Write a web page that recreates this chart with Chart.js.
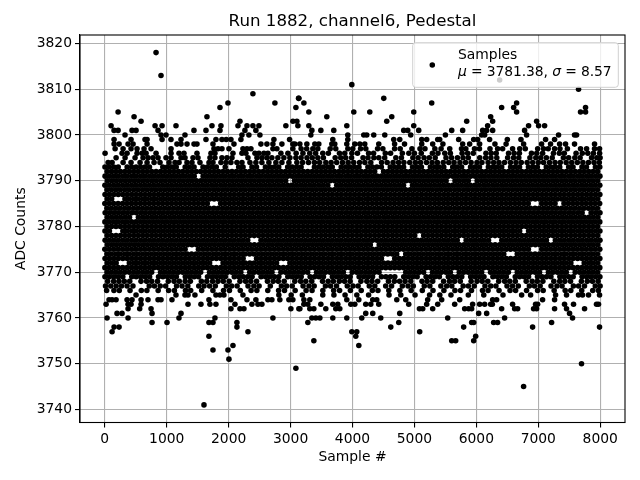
<!DOCTYPE html>
<html><head><meta charset="utf-8">
<style>html,body{margin:0;padding:0;background:#fff}canvas{display:block}</style>
<script src="https://cdn.jsdelivr.net/npm/chart.js@4"></script>
</head><body><canvas id="c" width="640" height="480"></canvas>
<script>
const chartTitle="Run 1882, channel6, Pedestal";
const xTitle="Sample #";
const yTitle="ADC Counts";
const seriesName="Samples";
const meanValue="3781.38";
const sigmaValue="8.57";
const xTicks=[0,1000,2000,3000,4000,5000,6000,7000,8000];
const yTicks=[3740,3750,3760,3770,3780,3790,3800,3810,3820];
// Outliers and sparse rows; dense core rows are estimates.
const L3818=[828];const L3813=[908];const L3812=[6376];const L3811=[3989];const L3810=[7650];
const L3809=[2392];const L3808=[3129,4505,3134];const L3807=[1989,2747,3215,5279,6650];
const L3806=[1860,3086,6408,6602,7763];const L3805=[215,3295,4021,4279,4989,6650,7682,7763];
const L3804=[473,1650,3585,4634,6231];const L3803=[586,2183,3038,3102,4553,5844,6263,6973];
const L3802=[102,812,925,1150,1731,1876,2151,2296,2392,2489,2924,3118,3295,3908,4989,6182,6843,7005,7102];
const L3801=[150,215,440,505,860,1440,1634,1860,2263,2440,3344,3489,3698,4827,4892,5069,5602,5779,6102,6166,6263,6779];
const L3800=[327,908,989,1295,2215,2327,2505,3327,3924,4182,4230,4343,4521,4940,5500,6085,6134,6811,7327,7585,7618];
const L3799=[150,424,650,683,925,1069,1231,1634,1795,1892,1961,2037,2198,2731,2984,3682,3924,4666,4763,5118,5198,5376,5408,5714,5957,6021,6214,6500,6720,7118,7263];
const L3798=[150,231,376,457,683,1166,1231,1328,1441,1489,1747,2086,2521,2618,2715,2860,3037,3069,3150,3263,3392,3456,3666,3714,3908,4037,4118,4198,4424,4680,4840,5118,5295,5460,5779,5892,6053,6300,6480,6763,7053,7198,7344,7440,7585,7908];
const L3797=[167,296,424,521,634,747,1070,1763,1828,1892,2005,2231,2296,2360,2715,2779,3037,3170,3260,3360,3440,3640,3730,3925,4005,4130,4215,4405,4490,4680,4770,4960,5090,5170,5330,5430,5570,5760,5830,5970,6050,6220,6343,6424,6585,6700,6790,6990,7085,7160,7263,7350,7470,7682,7780,7908,7989];
const L3796=[5,279,360,521,602,667,828,1070,1199,1279,1489,1715,1779,2070,2215,2279,2425,2489,2570,2634,2844,2957,3090,3200,3310,3405,3520,3610,3790,3875,3990,4080,4260,4340,4530,4615,4805,4910,5000,5110,5290,5380,5490,5580,5770,5860,5950,6155,6240,6320,6520,6610,6695,6890,6975,7070,7245,7340,7420,7610,7710,7800,7890,7990];
const L3795=[183,328,489,618,699,779,860,989,1070,1231,1296,1425,1505,1699,1779,1892,1973,2054,2312,2457,2537,2618,2698,2795,2892,2989,3086,3170,3265,3350,3440,3530,3720,3810,3890,3985,4170,4250,4345,4425,4520,4700,4790,4975,5060,5155,5240,5335,5510,5600,5695,5785,5870,6055,6150,6235,6330,6505,6600,6685,6865,6960,7040,7130,7225,7405,7490,7590,7675,7860,7945,7998];
const L3794=[54,118,296,424,570,683,796,892,1038,1134,1199,1328,1408,1537,1683,1747,1876,1957,2037,2134,2215,2344,2440,2537,2650,2763,2860,2973,3102,3195,3290,3385,3470,3570,3655,3745,3840,3930,4020,4115,4200,4295,4470,4560,4655,4745,4830,4925,5015,5100,5195,5285,5370,5465,5555,5640,5735,5825,5915,6010,6090,6190,6280,6365,6455,6550,6640,6725,6820,6910,7000,7085,7180,7270,7355,7450,7540,7630,7720,7810,7900,7985];
const L3793=[3,74,146,217,361,434,505,578,649,722,937,1010,1081,1154,1298,1369,1442,1586,1657,1730,1801,1945,2162,2233,2377,2450,2594,2665,2738,2809,2953,3026,3097,3170,3385,3458,3529,3602,3673,3817,3890,3961,4034,4105,4249,4322,4393,4466,4610,4681,4754,4825,4969,5042,5113,5257,5330,5401,5474,5618,5689,5762,5906,5977,6050,6194,6265,6338,6409,6553,6626,6697,6841,6914,6985,7129,7202,7273,7346,7490,7561,7705,7778,7922,7993];
const L3792=[38,110,182,253,326,397,470,541,614,685,758,829,902,973,1046,1117,1190,1261,1334,1405,1478,1549,1622,1693,1766,1837,1910,1981,2054,2125,2198,2269,2342,2413,2486,2557,2630,2701,2774,2845,2918,2989,3062,3133,3206,3277,3350,3421,3494,3565,3638,3709,3782,3853,3926,3997,4070,4141,4214,4285,4358,4502,4573,4646,4717,4790,4861,4934,5005,5078,5149,5222,5293,5366,5437,5510,5581,5654,5725,5798,5869,5942,6013,6086,6157,6230,6301,6374,6445,6518,6589,6662,6733,6806,6877,6950,7021,7094,7165,7238,7309,7382,7453,7526,7597,7670,7741,7814,7885,7958];
const L3791=[5,76,148,219,292,363,436,507,580,651,724,795,868,939,1012,1083,1156,1227,1300,1371,1444,1588,1659,1732,1803,1876,1947,2020,2091,2164,2235,2308,2379,2452,2523,2596,2667,2740,2811,2884,2955,3028,3099,3172,3243,3316,3387,3460,3531,3604,3675,3748,3819,3892,3963,4036,4107,4180,4251,4324,4395,4468,4539,4612,4683,4756,4827,4900,4971,5044,5115,5188,5259,5332,5403,5476,5547,5620,5691,5764,5835,5908,5979,6052,6123,6196,6267,6340,6411,6484,6555,6628,6699,6772,6843,6916,6987,7060,7131,7204,7275,7348,7419,7492,7563,7636,7707,7780,7851,7924,7995];
const L3790=[41,113,185,256,329,400,473,544,617,688,761,832,905,976,1049,1120,1193,1264,1337,1408,1481,1552,1625,1696,1769,1840,1913,1984,2057,2128,2201,2272,2345,2416,2489,2560,2633,2704,2777,2848,2921,3064,3135,3208,3279,3352,3423,3496,3567,3640,3711,3784,3855,3928,3999,4072,4143,4216,4287,4360,4431,4504,4575,4648,4719,4792,4863,4936,5007,5080,5151,5224,5295,5368,5439,5512,5655,5726,5799,5870,6013,6086,6157,6230,6301,6374,6445,6518,6589,6662,6733,6806,6877,6950,7021,7094,7165,7238,7309,7382,7453,7526,7597,7670,7741,7814,7885,7958];
const L3789=[2,73,145,216,289,360,433,504,577,648,721,792,865,936,1009,1080,1153,1224,1297,1368,1441,1512,1585,1656,1729,1800,1873,1944,2017,2088,2161,2232,2305,2376,2449,2520,2593,2664,2737,2808,2881,2952,3025,3096,3169,3240,3313,3384,3457,3528,3601,3745,3816,3889,3960,4033,4104,4177,4248,4321,4392,4465,4536,4609,4680,4753,4824,4969,5040,5113,5184,5257,5328,5401,5472,5545,5616,5689,5760,5833,5904,5977,6048,6121,6192,6265,6336,6409,6480,6553,6624,6697,6768,6841,6912,6985,7056,7129,7200,7273,7344,7417,7488,7561,7632,7705,7776,7849,7920,7993];
const L3788=[36,108,180,251,324,395,468,539,612,683,756,827,900,971,1044,1115,1188,1259,1332,1403,1476,1547,1620,1691,1764,1835,1908,1979,2052,2123,2196,2267,2340,2411,2484,2555,2628,2699,2772,2843,2916,2987,3060,3131,3204,3275,3348,3419,3492,3563,3636,3707,3780,3851,3924,3995,4068,4139,4212,4283,4356,4427,4500,4571,4644,4715,4788,4859,4932,5003,5076,5147,5220,5291,5364,5435,5508,5579,5652,5723,5796,5867,5940,6011,6084,6155,6228,6299,6372,6443,6516,6587,6660,6731,6804,6875,6948,7019,7092,7163,7236,7307,7380,7451,7524,7595,7668,7739,7812,7883,7956];
const L3787=[4,75,147,218,291,362,435,506,579,650,723,794,867,938,1011,1082,1155,1226,1299,1370,1443,1514,1587,1658,1731,1802,1875,1946,2019,2090,2163,2234,2307,2378,2451,2522,2595,2666,2739,2810,2883,2954,3027,3098,3171,3242,3315,3386,3459,3530,3603,3674,3747,3818,3891,3962,4035,4106,4179,4250,4323,4394,4467,4538,4611,4682,4755,4826,4899,4970,5043,5114,5187,5258,5331,5402,5475,5546,5619,5690,5763,5834,5907,5978,6051,6122,6195,6266,6339,6410,6483,6554,6627,6698,6771,6842,6915,6986,7059,7130,7203,7274,7347,7418,7491,7562,7635,7706,7779,7850,7923,7994];
const L3786=[39,111,326,397,470,541,614,685,758,829,902,973,1046,1117,1190,1261,1334,1405,1478,1549,1622,1693,1766,1837,1910,1981,2054,2125,2198,2269,2342,2413,2486,2557,2630,2701,2774,2845,2918,2989,3062,3133,3206,3277,3350,3421,3494,3565,3638,3709,3782,3853,3926,3997,4070,4141,4214,4285,4358,4429,4502,4573,4646,4717,4790,4861,4934,5005,5078,5149,5222,5293,5366,5437,5510,5581,5654,5725,5798,5869,5942,6013,6086,6157,6230,6301,6374,6445,6518,6589,6662,6733,6806,6877,6950,7021,7094,7165,7238,7309,7382,7453,7526,7597,7670,7741,7814,7885,7958];
const L3785=[1,72,144,215,288,359,432,503,576,647,720,791,864,935,1008,1079,1152,1223,1296,1367,1440,1511,1584,1655,1871,1942,2015,2086,2159,2230,2303,2374,2447,2518,2591,2662,2735,2806,2879,2950,3023,3094,3167,3238,3311,3382,3455,3526,3599,3670,3743,3814,3887,3958,4031,4102,4175,4246,4319,4390,4463,4534,4607,4678,4751,4822,4895,4966,5039,5110,5183,5254,5327,5398,5471,5542,5615,5686,5759,5830,5903,5974,6047,6118,6191,6262,6335,6406,6479,6550,6623,6694,6767,6838,7055,7126,7199,7270,7415,7486,7559,7630,7703,7774,7847,7918,7991];
const L3784=[35,107,179,250,323,394,467,538,611,682,755,826,899,970,1043,1114,1187,1258,1331,1402,1475,1546,1619,1690,1763,1834,1907,1978,2051,2122,2195,2266,2339,2410,2483,2554,2627,2698,2771,2842,2915,2986,3059,3130,3203,3274,3347,3418,3491,3562,3635,3706,3779,3850,3923,3994,4067,4138,4211,4282,4355,4426,4499,4570,4643,4714,4787,4858,4931,5002,5075,5146,5219,5290,5363,5434,5507,5578,5651,5722,5795,5866,5939,6010,6083,6154,6227,6298,6371,6442,6515,6586,6659,6730,6803,6874,6947,7018,7091,7162,7235,7306,7379,7450,7523,7594,7667,7738,7811,7882,7955];
const L3783=[6,77,149,220,293,364,437,508,581,652,725,796,869,940,1013,1084,1157,1228,1301,1372,1445,1516,1589,1660,1733,1804,1877,1948,2021,2092,2165,2236,2309,2380,2453,2524,2597,2668,2741,2812,2885,2956,3029,3100,3173,3244,3317,3388,3461,3532,3605,3676,3749,3820,3893,3964,4037,4108,4181,4252,4325,4396,4469,4540,4613,4684,4757,4828,4901,4972,5045,5116,5189,5260,5333,5404,5477,5548,5621,5692,5765,5836,5909,5980,6053,6124,6197,6268,6341,6412,6485,6556,6629,6700,6773,6844,6917,6988,7061,7132,7205,7276,7349,7420,7493,7564,7637,7708,7853,7926,7996];
const L3782=[40,112,184,255,328,399,543,616,687,760,831,904,975,1048,1119,1192,1263,1336,1407,1480,1551,1624,1695,1768,1839,1912,1983,2056,2127,2200,2271,2344,2415,2488,2559,2632,2703,2776,2847,2920,2991,3064,3135,3208,3279,3352,3423,3496,3567,3640,3711,3784,3855,3928,3999,4072,4143,4216,4287,4360,4431,4504,4575,4648,4719,4792,4863,4936,5007,5080,5151,5224,5295,5368,5439,5512,5583,5656,5727,5800,5871,5944,6015,6088,6159,6232,6303,6376,6447,6520,6591,6664,6735,6808,6879,6952,7023,7096,7167,7240,7311,7384,7455,7528,7599,7672,7743,7816,7887,7960];
const L3781=[2,74,146,217,290,361,434,505,578,649,722,793,866,937,1010,1081,1154,1225,1298,1369,1442,1513,1586,1657,1730,1801,1874,1945,2018,2089,2162,2233,2306,2377,2450,2521,2594,2665,2738,2809,2882,2953,3026,3097,3170,3241,3314,3385,3458,3529,3602,3673,3746,3817,3890,3961,4034,4105,4178,4249,4322,4393,4466,4537,4610,4681,4754,4825,4898,4969,5042,5113,5186,5257,5330,5401,5474,5545,5618,5689,5762,5833,5906,5977,6050,6121,6194,6265,6338,6409,6482,6553,6626,6697,6770,6841,6914,6985,7058,7129,7202,7273,7346,7417,7490,7561,7634,7705,7778,7849,7922,7993];
const L3780=[37,109,181,252,325,396,469,540,613,684,757,828,901,972,1045,1116,1189,1260,1333,1404,1477,1548,1621,1692,1765,1836,1909,1980,2053,2124,2197,2268,2341,2412,2485,2556,2629,2700,2773,2844,2917,2988,3061,3132,3205,3276,3349,3420,3493,3564,3637,3708,3781,3852,3925,3996,4069,4140,4213,4284,4357,4428,4501,4572,4645,4716,4789,4860,4933,5004,5077,5148,5221,5292,5365,5436,5509,5580,5653,5724,5797,5868,5941,6012,6085,6156,6229,6300,6373,6444,6517,6588,6661,6732,6805,6876,6949,7020,7093,7164,7237,7308,7381,7452,7525,7596,7669,7740,7813,7884,7957];
const L3779=[3,75,292,363,436,507,580,651,724,795,868,939,1012,1083,1156,1227,1300,1371,1444,1515,1588,1659,1732,1803,1876,1947,2020,2091,2164,2235,2308,2379,2452,2523,2596,2667,2740,2811,2884,2955,3028,3099,3172,3243,3316,3387,3460,3531,3604,3675,3748,3819,3892,3963,4036,4107,4180,4251,4324,4395,4468,4539,4612,4683,4756,4827,4900,4971,5044,5115,5188,5259,5332,5403,5476,5547,5620,5691,5764,5835,5908,5979,6052,6123,6196,6267,6340,6411,6484,6555,6628,6699,6843,6916,6987,7060,7131,7204,7275,7348,7419,7492,7563,7636,7707,7780,7851,7924,7995];
const L3778=[38,110,182,253,326,397,470,541,614,685,758,829,902,973,1046,1117,1190,1261,1334,1405,1478,1549,1622,1693,1766,1837,1910,1981,2054,2125,2198,2269,2342,2413,2486,2557,2630,2701,2774,2845,2918,2989,3062,3133,3206,3277,3350,3421,3494,3565,3638,3709,3782,3853,3926,3997,4070,4141,4214,4285,4358,4429,4502,4573,4646,4717,4790,4861,4934,5005,5149,5222,5293,5366,5437,5510,5581,5654,5725,5798,5869,5942,6013,6086,6157,6230,6301,6374,6445,6518,6589,6662,6733,6806,6877,6950,7021,7094,7165,7238,7309,7382,7453,7526,7597,7670,7741,7814,7885,7958];
const L3777=[5,76,148,219,292,363,436,507,580,651,724,795,868,939,1012,1083,1156,1227,1300,1371,1444,1515,1588,1659,1732,1803,1876,1947,2020,2091,2164,2235,2308,2523,2596,2667,2740,2811,2884,2955,3028,3099,3172,3243,3316,3387,3460,3531,3604,3675,3748,3819,3892,3963,4036,4107,4180,4251,4324,4395,4468,4539,4612,4683,4756,4827,4900,4971,5044,5115,5188,5259,5332,5403,5476,5547,5620,5691,5835,5908,5979,6052,6123,6196,6411,6484,6555,6628,6699,6772,6843,6916,6987,7060,7131,7276,7349,7420,7493,7564,7637,7708,7781,7852,7925,7996];
const L3776=[41,113,185,256,329,400,473,544,617,688,761,832,905,976,1049,1120,1193,1264,1337,1408,1481,1552,1625,1696,1769,1840,1913,1984,2057,2128,2201,2272,2345,2416,2489,2560,2633,2704,2777,2848,2921,2992,3065,3136,3209,3280,3353,3424,3497,3568,3641,3712,3785,3856,3929,4000,4073,4144,4217,4288,4431,4504,4575,4648,4719,4792,4863,4936,5007,5080,5151,5224,5295,5368,5439,5512,5583,5656,5727,5800,5871,5944,6015,6088,6159,6232,6303,6376,6447,6520,6591,6664,6735,6808,6879,6952,7023,7096,7167,7240,7311,7384,7455,7528,7599,7672,7743,7816,7887,7960];
const L3775=[1,73,145,216,289,360,433,504,577,648,721,792,865,936,1009,1080,1153,1224,1297,1512,1585,1656,1729,1800,1873,1944,2017,2088,2161,2232,2305,2376,2449,2520,2593,2664,2737,2808,2881,2952,3025,3096,3169,3240,3313,3384,3457,3528,3601,3672,3745,3816,3889,3960,4033,4104,4177,4248,4321,4392,4465,4536,4609,4680,4753,4824,4897,4968,5041,5112,5185,5256,5329,5400,5473,5544,5617,5688,5761,5832,5905,5976,6049,6120,6193,6264,6337,6408,6481,6552,6625,6696,6769,6840,7056,7129,7200,7273,7344,7417,7488,7561,7632,7705,7776,7849,7920,7993];
const L3774=[35,107,179,250,323,394,467,538,611,682,755,826,899,970,1043,1114,1187,1258,1331,1402,1475,1546,1619,1690,1763,1834,1907,1978,2051,2122,2195,2266,2339,2410,2483,2554,2627,2698,2771,2842,2915,2986,3059,3130,3203,3274,3347,3418,3491,3562,3635,3706,3779,3850,3923,3994,4067,4138,4211,4282,4355,4426,4499,4570,4643,4714,4859,4932,5003,5076,5147,5220,5291,5364,5435,5508,5579,5652,5723,5796,5867,5940,6011,6084,6155,6228,6299,6372,6443,6660,6731,6804,6875,6948,7019,7092,7163,7236,7307,7380,7451,7524,7595,7668,7739,7812,7883,7956];
const L3773=[4,75,147,218,291,362,435,506,579,650,723,794,867,938,1011,1082,1155,1226,1299,1370,1443,1514,1587,1658,1731,1802,1875,1946,2019,2090,2163,2234,2451,2522,2595,2666,2739,2810,2883,2954,3027,3098,3171,3242,3315,3386,3459,3530,3603,3674,3747,3818,3891,3962,4035,4106,4179,4250,4323,4394,4467,4682,4755,4826,4899,4970,5043,5114,5187,5258,5331,5402,5475,5546,5619,5690,5763,5834,5907,5978,6051,6122,6195,6266,6339,6410,6483,6554,6627,6698,6771,6842,6915,6986,7059,7130,7203,7274,7347,7418,7491,7562,7635,7706,7779,7850,7923,7994];
const L3772=[39,111,184,397,470,541,614,685,758,829,902,973,1046,1117,1190,1261,1334,1405,1478,1549,1622,1693,1910,1981,2054,2125,2198,2269,2342,2413,2486,2557,2630,2701,2774,2989,3062,3133,3206,3277,3350,3421,3494,3565,3638,3709,3782,3853,3926,3997,4070,4141,4214,4285,4358,4429,4502,4573,4646,4717,4790,4861,4934,5005,5078,5149,5222,5293,5366,5437,5510,5581,5654,5725,5798,5869,5942,6013,6086,6157,6230,6301,6374,6445,6518,6589,6662,6733,6806,6877,6950,7021,7094,7165,7238,7309,7382,7453,7526,7741,7814,7885,7958];
const L3771=[2,73,146,217,290,361,434,505,578,649,722,793,866,937,1010,1081,1154,1225,1298,1369,1442,1513,1586,1657,1730,1801,1874,1945,2018,2089,2162,2233,2306,2377,2450,2521,2594,2665,2738,2809,2882,2953,3026,3097,3170,3241,3314,3385,3458,3529,3602,3673,3746,3817,3890,3961,4034,4105,4178,4249,4322,4393,4466,4537,4610,4681,4754,4825,4898,4969,5042,5113,5186,5257,5330,5401,5474,5545,5618,5689,5762,5833,5906,5977,6050,6121,6194,6265,6338,6409,6482,6553,6626,6697,6770,6841,6914,6985,7058,7129,7202,7273,7346,7417,7490,7561,7634,7705,7778,7849,7922,7993];
const L3770=[37,109,181,252,325,396,469,540,613,684,757,901,972,1045,1116,1189,1260,1333,1404,1477,1548,1692,1765,1836,1909,1980,2053,2124,2197,2341,2412,2485,2556,2629,2700,2844,2917,2988,3061,3132,3205,3276,3420,3493,3564,3637,3708,3781,3852,3996,4069,4140,4213,4284,4357,4428,4860,4933,5004,5077,5148,5292,5365,5436,5509,5580,5724,5797,5868,5941,6012,6085,6229,6300,6373,6444,6517,6661,6732,6805,6876,6949,7020,7164,7237,7308,7381,7452,7596,7669,7740,7813,7884,7957];
const L3769=[3,75,147,218,291,436,507,580,651,724,868,939,1012,1083,1156,1300,1371,1444,1515,1659,1732,1803,1876,1947,2091,2164,2235,2308,2379,2523,2596,2667,2740,2811,2955,3028,3099,3172,3316,3387,3460,3531,3675,3748,3819,3892,3963,4107,4180,4251,4324,4468,4539,4612,4683,4827,4900,4971,5044,5188,5259,5332,5403,5547,5620,5691,5764,5908,5979,6052,6123,6267,6340,6411,6484,6628,6699,6772,6843,6987,7060,7131,7204,7348,7419,7492,7563,7707,7780,7851,7924,7995];
const L3768=[47,143,229,315,403,585,675,758,852,1026,1119,1203,1298,1382,1560,1647,1741,1828,1913,2008,2183,2274,2358,2451,2627,2719,2802,2897,3069,3162,3246,3342,3516,3607,3691,3787,3871,3961,4136,4232,4315,4406,4581,4676,4760,4849,4942,5122,5205,5295,5471,5566,5649,5740,5916,6011,6094,6184,6361,6457,6539,6629,6805,6901,6984,7074,7251,7346,7429,7520,7696,7791,7874,7965];
const L3767=[12,97,184,270,360,455,718,802,895,983,1159,1248,1341,1518,1603,1693,1785,1963,2048,2137,2313,2407,2492,2673,2852,2936,3027,3202,3297,3381,3563,3646,3742,3916,4008,4091,4271,4360,4536,4631,4805,4897,4982,5159,5249,5427,5521,5604,5787,5871,5966,6139,6232,6316,6495,6584,6677,6856,6939,7030,7206,7301,7384,7567,7651,7746,7920,7998];
const L3766=[30,148,234,408,590,680,862,1031,1124,1303,1387,1565,1746,1918,2013,2188,2363,2456,2632,2807,2902,3074,3251,3347,3521,3696,3792,3966,4141,4320,4411,4586,4765,4947,5127,5300,5476,5654,5745,5921,6099,6189,6366,6544,6634,6810,6989,7079,7256,7434,7525,7701,7879,7970];
const L3765=[505,1150,1295,1344,1456,1795,1860,1924,2231,2811,3010,3190,3520,3700,3880,4070,4260,4590,4780,5010,5245,5410,5590,5870,6120,6430,6731,6876,7279,7456,7650,7714,7811,7989];
const L3764=[69,118,182,360,440,586,698,860,908,1085,1682,2037,2296,2440,2634,2698,2827,2973,3037,3215,3311,3908,4102,4327,4392,4715,4860,5214,5440,5731,6263,6327,7069,7263];
const L3763=[21,376,424,586,1344,1553,1698,1795,2102,2376,2473,2537,3215,3279,3489,3682,3763,3973,4037,4214,4295,4424,4908,5198,5376,5650,5940,6053,6134,6231,6258,6585,6956,6989,7424,7569,7940,7972];
const L3762=[376,564,747,2037,2183,2247,3005,3134,3150,3311,3376,3569,3730,3795,5081,5134,5295,5811,5876,5924,6408,6618,6666,6924,6973,7263,7456,7747];
const L3761=[198,279,763,1231,4214,4327,4763,6037,6166,7505];
const L3760=[37,376,1198,1779,2715,3344,3408,3473,3682,3908,4150,4456,5537,6456,7553];
const L3759=[763,1005,1682,1747,2134,3279,4747,5924,5957,6279,6343,7215];
const L3758=[150,231,2134,4618,5795,6908,7989];
const L3757=[118,2312,3989,4069,5085];const L3756=[1682,4053,5989];
const L3755=[3376,5602,5666,5957];const L3754=[2070,4102];const L3753=[1747,1989];
const L3751=[2005];const L3750=[7698];const L3749=[3086];const L3745=[6763];const L3741=[1602];
const levels=[3818,3813,3812,3811,3810,3809,3808,3807,3806,3805,3804,3803,3802,3801,3800,3799,3798,3797,3796,3795,3794,3793,3792,3791,3790,3789,3788,3787,3786,3785,3784,3783,3782,3781,3780,3779,3778,3777,3776,3775,3774,3773,3772,3771,3770,3769,3768,3767,3766,3765,3764,3763,3762,3761,3760,3759,3758,3757,3756,3755,3754,3753,3751,3750,3749,3745,3741];
const sampleRows=[L3818,L3813,L3812,L3811,L3810,L3809,L3808,L3807,L3806,L3805,L3804,L3803,L3802,L3801,L3800,L3799,L3798,L3797,L3796,L3795,L3794,L3793,L3792,L3791,L3790,L3789,L3788,L3787,L3786,L3785,L3784,L3783,L3782,L3781,L3780,L3779,L3778,L3777,L3776,L3775,L3774,L3773,L3772,L3771,L3770,L3769,L3768,L3767,L3766,L3765,L3764,L3763,L3762,L3761,L3760,L3759,L3758,L3757,L3756,L3755,L3754,L3753,L3751,L3750,L3749,L3745,L3741];
const points=[];
levels.forEach((v,i)=>sampleRows[i].forEach(s=>points.push({x:s,y:v})));

const FONT='"DejaVu Sans"';
const FS=13.89;
const framePlugin={id:'frame',afterDraw(ch){
  const a=ch.chartArea,c=ch.ctx;
  c.save();
  c.fillStyle='#000';c.textBaseline='middle';c.textAlign='center';
  c.font='16.67px '+FONT;
  c.fillText(chartTitle,(a.left+a.right)/2,22);
  // legend
  const lx=412.7,ly=42.7,lw=205.6,lh=44.6;
  c.beginPath();c.roundRect(lx,ly,lw,lh,3);
  c.fillStyle='rgba(255,255,255,0.8)';c.fill();
  c.strokeStyle='#d0d0d0';c.lineWidth=1;c.stroke();
  c.beginPath();c.arc(432.3,65,2.78,0,Math.PI*2);c.fillStyle='#000';c.fill();
  c.fillStyle='#000';c.textBaseline='alphabetic';c.textAlign='left';
  c.font=FS+'px '+FONT;
  c.fillText(seriesName,458,59);
  let x=458;const y=76;
  c.letterSpacing='-0.1px';
  [['italic','μ'],['normal',' = '+meanValue+', '],['italic','σ'],['normal',' = '+sigmaValue]].forEach(([st,t])=>{
    c.font=st+' '+FS+'px '+FONT;c.fillText(t,x,y);x+=c.measureText(t).width;});
  c.letterSpacing='0px';
  // frame
  c.strokeStyle='#000';c.lineWidth=1.1;
  c.strokeRect(a.left,a.top,a.right-a.left,a.bottom-a.top);
  c.restore();
}};
new Chart(document.getElementById('c'),{
  type:'scatter',
  data:{datasets:[{label:seriesName,data:points,backgroundColor:'#000',borderColor:'#000',pointRadius:2.78,pointBorderWidth:0,pointHoverRadius:2.78}]},
  options:{
    responsive:false,animation:false,events:[],
    layout:{padding:{left:0,right:15,top:35,bottom:0}},
    plugins:{legend:{display:false},tooltip:{enabled:false},title:{display:false}},
    scales:{
      x:{type:'linear',min:-400,max:8400,
        afterFit(s){s.height=57.5;},
        afterBuildTicks(s){s.ticks=xTicks.map(v=>({value:v}));},
        title:{display:true,text:xTitle,color:'#000',font:{family:FONT,size:FS},padding:{top:0,bottom:14.7}},
        ticks:{autoSkip:false,maxRotation:0,color:'#000',padding:4,font:{family:FONT,size:FS},callback:v=>String(v)},
        grid:{color:'#b0b0b0',lineWidth:1.1,tickColor:'#000',tickLength:5,tickWidth:1.1},
        border:{color:'#000',width:1.1}},
      y:{type:'linear',min:3737.15,max:3821.85,
        afterFit(s){s.width=80;},
        afterBuildTicks(s){s.ticks=yTicks.map(v=>({value:v}));},
        title:{display:true,text:yTitle,color:'#000',font:{family:FONT,size:FS},padding:{top:12.7,bottom:0}},
        ticks:{autoSkip:false,color:'#000',padding:3,font:{family:FONT,size:FS},callback:v=>String(v)},
        grid:{color:'#b0b0b0',lineWidth:1.1,tickColor:'#000',tickLength:5,tickWidth:1.1},
        border:{color:'#000',width:1.1}}
    }
  },
  plugins:[framePlugin]
});
</script></body></html>
